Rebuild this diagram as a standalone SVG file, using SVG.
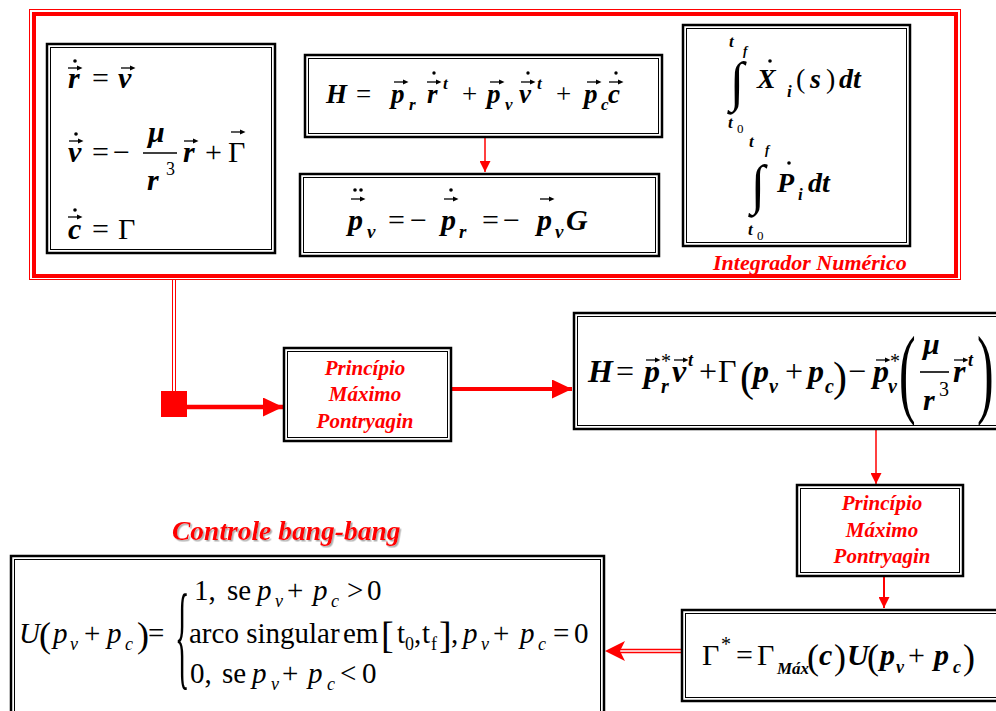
<svg xmlns="http://www.w3.org/2000/svg" width="996" height="711" viewBox="0 0 996 711" font-family="Liberation Serif">
<defs>
<style>
.bo{fill:#fff;stroke:#000;stroke-width:2.5}
.bi{fill:none;stroke:#000;stroke-width:1}
.red{fill:#ff0000}
.cr{stroke:#ff0000;fill:none}
</style>
<symbol id="va" overflow="visible"><path d="M0 0H11" stroke="#000" stroke-width="1.3"/><path d="M9 -2.6L14.5 0L9 2.6Z" fill="#000"/></symbol>
<marker id="hs" markerUnits="userSpaceOnUse" markerWidth="11" markerHeight="11" refX="11" refY="5.5" orient="auto"><path d="M0 0L11 5.5L0 11Z" fill="#ff0000"/></marker>
<marker id="hb" markerUnits="userSpaceOnUse" markerWidth="20" markerHeight="19" refX="20" refY="9.5" orient="auto"><path d="M0 0L20 9.5L0 19Z" fill="#ff0000"/></marker>
<filter id="sh" x="-5%" y="-20%" width="110%" height="150%"><feDropShadow dx="1.5" dy="1.5" stdDeviation="0.6" flood-color="#999" flood-opacity="0.8"/></filter>
</defs>
<rect width="996" height="711" fill="#fff"/>

<g id="frame">
<rect x="29.5" y="9.5" width="931" height="270" fill="none" stroke="#ff0000" stroke-width="1"/>
<rect x="34" y="14" width="922" height="262" fill="none" stroke="#ff0000" stroke-width="4"/>
</g>

<g id="connectors">
<path class="cr" d="M485 138V172" stroke-width="1.5" marker-end="url(#hs)"/>
<path class="cr" d="M172.5 279V392M175.5 279V392" stroke-width="1"/>
<rect x="161" y="391" width="26" height="26" fill="#ff0000"/>
<path class="cr" d="M187 407H283" stroke-width="4.5" marker-end="url(#hb)"/>
<path class="cr" d="M452 389H572" stroke-width="4" marker-end="url(#hb)"/>
<path class="cr" d="M876 430V484" stroke-width="1.5" marker-end="url(#hs)"/>
<path class="cr" d="M884 577V608" stroke-width="2" marker-end="url(#hs)"/>
<path class="cr" d="M681 649.5H618M681 652.5H618" stroke-width="1.5"/>
<path d="M605 651L625 641L620 651L625 661Z" fill="#ff0000"/>
</g>

<g id="box-dynamics">
<rect class="bo" x="47" y="44" width="228" height="209"/>
<rect class="bi" x="50.5" y="47.5" width="221" height="202"/>
<text font-family="Liberation Serif" font-style="italic" font-weight="bold" font-size="30"><tspan x="68" y="88">r</tspan><tspan x="118" y="88">v</tspan><tspan x="68" y="162">v</tspan><tspan x="148" y="142">μ</tspan><tspan x="147" y="190">r</tspan><tspan x="183" y="162">r</tspan><tspan x="68" y="239">c</tspan></text>
<text font-family="Liberation Serif" font-size="30"><tspan x="92" y="88">=</tspan><tspan x="92" y="162">=</tspan><tspan x="113" y="162">−</tspan><tspan x="205" y="162">+</tspan><tspan x="228" y="162">Γ</tspan><tspan x="92" y="239">=</tspan><tspan x="118" y="239">Γ</tspan></text>
<text font-family="Liberation Serif" font-size="18" x="166" y="175">3</text>
<path d="M143 153H177" stroke="#000" stroke-width="1.5"/>
<use href="#va" x="68" y="68"/><circle cx="75" cy="61" r="1.8"/>
<use href="#va" x="121" y="68"/>
<use href="#va" x="69" y="141"/><circle cx="76" cy="134" r="1.8"/>
<use href="#va" x="184" y="141"/>
<use href="#va" x="231" y="132"/>
<use href="#va" x="68" y="217"/><circle cx="75" cy="210" r="1.8"/>
</g>

<g id="box-hamiltonian">
<rect class="bo" x="305" y="55" width="357" height="82"/>
<rect class="bi" x="308.5" y="58.5" width="350" height="75"/>
<text font-family="Liberation Serif" font-style="italic" font-weight="bold" font-size="27"><tspan x="326" y="103">H</tspan><tspan x="391" y="103">p</tspan><tspan x="427" y="103">r</tspan><tspan x="487" y="103">p</tspan><tspan x="519" y="103">v</tspan><tspan x="584" y="103">p</tspan><tspan x="608" y="103">c</tspan></text>
<text font-family="Liberation Serif" font-size="27"><tspan x="356" y="103">=</tspan><tspan x="462" y="103">+</tspan><tspan x="556" y="103">+</tspan></text>
<text font-family="Liberation Serif" font-style="italic" font-weight="bold" font-size="17"><tspan x="409" y="110">r</tspan><tspan x="443" y="89">t</tspan><tspan x="505" y="110">v</tspan><tspan x="537" y="89">t</tspan><tspan x="601" y="110">c</tspan></text>
<use href="#va" x="394" y="82"/><use href="#va" x="427" y="82"/><circle cx="434" cy="73" r="1.7"/>
<use href="#va" x="490" y="82"/><use href="#va" x="521" y="82"/><circle cx="528" cy="73" r="1.7"/>
<use href="#va" x="587" y="82"/><use href="#va" x="609" y="82"/><circle cx="616" cy="73" r="1.7"/>
</g>

<g id="box-costate">
<rect class="bo" x="300" y="174" width="359" height="82"/>
<rect class="bi" x="303.5" y="177.5" width="352" height="75"/>
<text font-family="Liberation Serif" font-style="italic" font-weight="bold" font-size="30"><tspan x="348" y="230">p</tspan><tspan x="441" y="230">p</tspan><tspan x="537" y="230">p</tspan><tspan x="566" y="230">G</tspan></text>
<text font-family="Liberation Serif" font-size="30"><tspan x="388" y="230">=</tspan><tspan x="410" y="230">−</tspan><tspan x="482" y="230">=</tspan><tspan x="503" y="230">−</tspan></text>
<text font-family="Liberation Serif" font-style="italic" font-weight="bold" font-size="19"><tspan x="367" y="238">v</tspan><tspan x="459" y="238">r</tspan><tspan x="555" y="238">v</tspan></text>
<use href="#va" x="351" y="199"/><circle cx="355" cy="190" r="1.8"/><circle cx="361" cy="190" r="1.8"/>
<use href="#va" x="444" y="199"/><circle cx="451" cy="190" r="1.8"/>
<use href="#va" x="540" y="199"/>
</g>

<g id="box-integrator">
<rect class="bo" x="683" y="25" width="227" height="221"/>
<rect class="bi" x="686.5" y="28.5" width="220" height="214"/>
<text font-family="Liberation Serif" font-style="italic" font-weight="bold" font-size="17"><tspan x="729" y="47">t</tspan><tspan x="728" y="128">t</tspan><tspan x="749" y="147">t</tspan><tspan x="748" y="235">t</tspan><tspan x="787" y="97">i</tspan><tspan x="798" y="200">i</tspan></text>
<text font-family="Liberation Serif" font-style="italic" font-weight="bold" font-size="13"><tspan x="743" y="55">f</tspan><tspan x="765" y="154">f</tspan></text>
<text font-family="Liberation Serif" font-size="13"><tspan x="737" y="133">0</tspan><tspan x="757" y="240">0</tspan></text>
<text font-family="Liberation Serif" font-size="52" transform="translate(730 100) scale(1 1.05)">∫</text>
<text font-family="Liberation Serif" font-size="52" transform="translate(751 203) scale(1 1.05)">∫</text>
<text font-family="Liberation Serif" font-style="italic" font-weight="bold" font-size="28"><tspan x="757" y="88">X</tspan><tspan x="810" y="88">s</tspan><tspan x="839" y="88">dt</tspan><tspan x="777" y="192">P</tspan><tspan x="808" y="192">dt</tspan></text>
<text font-family="Liberation Serif" font-size="28"><tspan x="796" y="88">(</tspan><tspan x="826" y="88">)</tspan></text>
<circle cx="770" cy="61" r="1.8"/><circle cx="789" cy="163" r="1.8"/>
</g>
<g id="label-integrador">
<text class="red" font-family="Liberation Serif" font-style="italic" font-weight="bold" font-size="22" x="713" y="270">Integrador Numérico</text>
</g>

<g id="pmp-1">
<rect class="bo" x="284" y="348" width="167" height="93"/>
<rect class="bi" x="287.5" y="351.5" width="160" height="86"/>
<text class="red" font-family="Liberation Serif" font-style="italic" font-weight="bold" font-size="21" text-anchor="middle"><tspan x="365" y="375">Princípio</tspan><tspan x="365" y="401">Máximo</tspan><tspan x="365" y="428">Pontryagin</tspan></text>
</g>

<g id="box-hamiltonian-opt">
<rect class="bo" x="574" y="313" width="440" height="116"/>
<rect class="bi" x="577.5" y="316.5" width="440" height="109"/>
<text font-family="Liberation Serif" font-style="italic" font-weight="bold" font-size="32"><tspan x="588" y="382">H</tspan><tspan x="644" y="382">p</tspan><tspan x="672" y="382">v</tspan><tspan x="753" y="382">p</tspan><tspan x="808" y="382">p</tspan><tspan x="873" y="382">p</tspan><tspan x="953" y="382">r</tspan></text>
<text font-family="Liberation Serif" font-size="32"><tspan x="616" y="382">=</tspan><tspan x="699" y="382">+</tspan><tspan x="718" y="382">Γ</tspan><tspan x="785" y="382">+</tspan><tspan x="848" y="382">−</tspan></text>
<text font-family="Liberation Serif" font-size="42"><tspan x="740" y="391">(</tspan><tspan x="833" y="391">)</tspan></text>
<text font-family="Liberation Serif" font-size="20"><tspan x="661" y="368">*</tspan><tspan x="890" y="368">*</tspan><tspan x="939" y="396">3</tspan></text>
<text font-family="Liberation Serif" font-style="italic" font-weight="bold" font-size="20"><tspan x="661" y="393">r</tspan><tspan x="769" y="393">v</tspan><tspan x="825" y="393">c</tspan><tspan x="888" y="393">v</tspan></text>
<text font-family="Liberation Serif" font-style="italic" font-weight="bold" font-size="18"><tspan x="688" y="366">t</tspan><tspan x="968" y="366">t</tspan></text>
<text font-family="Liberation Serif" font-style="italic" font-weight="bold" font-size="30"><tspan x="923" y="354">μ</tspan><tspan x="923" y="410">r</tspan></text>
<path d="M920 372H949" stroke="#000" stroke-width="1.6"/>
<text font-family="Liberation Serif" font-size="100" transform="translate(899 405) scale(0.5 1)">(</text>
<text font-family="Liberation Serif" font-size="100" transform="translate(977 405) scale(0.5 1)">)</text>
<use href="#va" x="646" y="360"/><use href="#va" x="674" y="360"/><use href="#va" x="876" y="360"/><use href="#va" x="954" y="360"/>
</g>

<g id="pmp-2">
<rect class="bo" x="797" y="485" width="166" height="91"/>
<rect class="bi" x="800.5" y="488.5" width="159" height="84"/>
<text class="red" font-family="Liberation Serif" font-style="italic" font-weight="bold" font-size="21" text-anchor="middle"><tspan x="882" y="510">Princípio</tspan><tspan x="882" y="537">Máximo</tspan><tspan x="882" y="563">Pontryagin</tspan></text>
</g>

<g id="box-control-law">
<rect class="bo" x="682" y="610" width="330" height="91"/>
<rect class="bi" x="685.5" y="613.5" width="330" height="84"/>
<text font-family="Liberation Serif" font-size="30"><tspan x="702" y="665">Γ</tspan><tspan x="736" y="665">=</tspan><tspan x="757" y="665">Γ</tspan><tspan x="908" y="665">+</tspan></text>
<text font-family="Liberation Serif" font-style="italic" font-weight="bold" font-size="30"><tspan x="819" y="665">c</tspan><tspan x="847" y="665">U</tspan><tspan x="880" y="665">p</tspan><tspan x="934" y="665">p</tspan></text>
<text font-family="Liberation Serif" font-size="36"><tspan x="807" y="669">(</tspan><tspan x="834" y="669">)</tspan><tspan x="867" y="669">(</tspan><tspan x="963" y="669">)</tspan></text>
<text font-family="Liberation Serif" font-size="20" x="721" y="651">*</text>
<text font-family="Liberation Serif" font-style="italic" font-weight="bold" font-size="17" x="777" y="674">Máx</text>
<text font-family="Liberation Serif" font-style="italic" font-weight="bold" font-size="18"><tspan x="896" y="673">v</tspan><tspan x="953" y="673">c</tspan></text>
</g>

<g id="label-bang">
<text class="red" font-family="Liberation Serif" font-style="italic" font-weight="bold" font-size="27.5" x="172" y="540" filter="url(#sh)">Controle bang-bang</text>
</g>

<g id="box-bang-bang">
<rect class="bo" x="11" y="556" width="593" height="170"/>
<rect class="bi" x="14.5" y="559.5" width="586" height="170"/>
<text font-family="Liberation Serif" font-style="italic" font-size="29"><tspan x="19" y="643">U</tspan><tspan x="53" y="643">p</tspan><tspan x="107" y="643">p</tspan><tspan x="257" y="600">p</tspan><tspan x="313" y="600">p</tspan><tspan x="463" y="643">p</tspan><tspan x="520" y="643">p</tspan><tspan x="252" y="683">p</tspan><tspan x="308" y="683">p</tspan></text>
<text font-family="Liberation Serif" font-size="29"><tspan x="84" y="643">+</tspan><tspan x="148" y="643">=</tspan><tspan x="194" y="600">1,</tspan><tspan x="227" y="600">se</tspan><tspan x="287" y="600">+</tspan><tspan x="347" y="600">&gt;</tspan><tspan x="367" y="600">0</tspan><tspan x="189" y="643">arco singular</tspan><tspan x="343" y="643">em</tspan><tspan x="397" y="643">t</tspan><tspan x="414" y="643">,</tspan><tspan x="422" y="643">t</tspan><tspan x="451" y="643">,</tspan><tspan x="493" y="643">+</tspan><tspan x="553" y="643">=</tspan><tspan x="574" y="643">0</tspan><tspan x="190" y="683">0,</tspan><tspan x="222" y="683">se</tspan><tspan x="282" y="683">+</tspan><tspan x="340" y="683">&lt;</tspan><tspan x="362" y="683">0</tspan></text>
<text font-family="Liberation Serif" font-size="36"><tspan x="39" y="647">(</tspan><tspan x="137" y="647">)</tspan></text>
<text font-family="Liberation Serif" font-size="116" transform="translate(175 674) scale(0.26 1)">{</text>
<text font-family="Liberation Serif" font-size="38"><tspan x="381" y="648">[</tspan><tspan x="439" y="648">]</tspan></text>
<text font-family="Liberation Serif" font-style="italic" font-size="18"><tspan x="70" y="650">v</tspan><tspan x="125" y="650">c</tspan><tspan x="275" y="607">v</tspan><tspan x="331" y="607">c</tspan><tspan x="481" y="650">v</tspan><tspan x="538" y="650">c</tspan><tspan x="271" y="690">v</tspan><tspan x="327" y="690">c</tspan></text>
<text font-family="Liberation Serif" font-size="18"><tspan x="405" y="650">0</tspan><tspan x="431" y="650">f</tspan></text>
</g>
</svg>
